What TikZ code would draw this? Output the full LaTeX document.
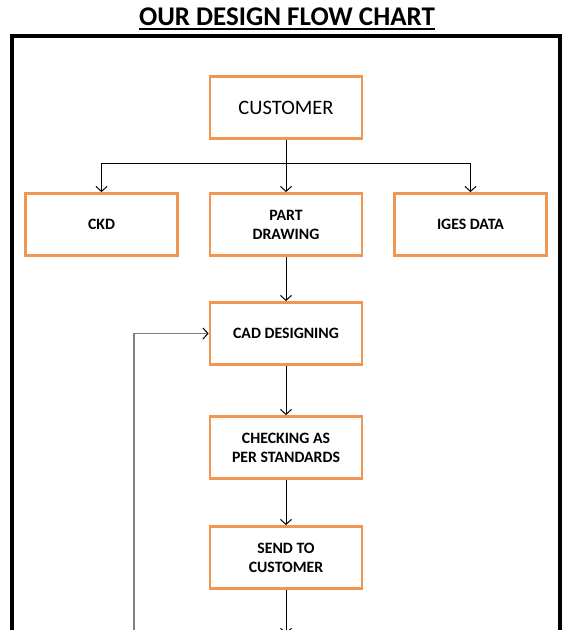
\documentclass[tikz,border=0pt]{standalone}
\usepackage{fontspec}
\setmainfont{Carlito}
\usetikzlibrary{
    arrows.meta,
    positioning,
    calc
}
\definecolor{bgWhite}{RGB}{255, 255, 255}
\definecolor{textBlack}{RGB}{0, 0, 0}
\definecolor{boxOrange}{RGB}{240, 150, 80}
\definecolor{loopGray}{RGB}{128, 128, 128}
\def\pageW{574}
\def\pageH{630}
\tikzset{
    flowBox/.style={
        rectangle,
        draw=boxOrange,
        line width=2.8pt,
        fill=bgWhite,
        minimum width=152pt,
        minimum height=62pt,
        text centered,
        align=center,
        text=textBlack,
        font=\bfseries\fontsize{15.8}{19}\selectfont
    },
    startBox/.style={
        flowBox,
        font=\fontsize{20.5}{23}\selectfont
    },
    flowArrow/.style={
        draw=textBlack,
        line width=1pt,
        -{Straight Barb[length=5pt, width=11pt]}
    },
    loopArrow/.style={
        draw=loopGray,
        line width=1.5pt,
        -{Straight Barb[length=5pt, width=11pt, color=textBlack, line width=1pt]}
    },
    heading/.style={
        font=\bfseries\fontsize{27}{30}\selectfont,
        text=textBlack,
        inner sep=0pt
    }
}

\begin{document}
\begin{tikzpicture}[x=1pt, y=-1pt]
    \useasboundingbox (0,0) rectangle (\pageW, \pageH);
    \fill[bgWhite] (0,0) rectangle (\pageW, \pageH);

    % Title
    \node[heading, anchor=base] (title) at (287, 25) {OUR DESIGN FLOW CHART};
    \draw[line width=2pt] ($(title.base west)+(0,4)$) -- ($(title.base east)+(0,4)$);

    % Frame
    \draw[line width=4pt, textBlack] (12, 35.5) rectangle (560, 700);

    % 1. Customer (Top)
    \node[startBox] (customer) at (286, 107.5) {CUSTOMER};

    % 2. Inputs
    \node[flowBox] (ckd) at (101.5, 224.5) {CKD};
    \node[flowBox] (part) at (286, 224.5) {PART\\DRAWING};
    \node[flowBox] (iges) at (470.5, 224.5) {IGES DATA};

    % 3. Design steps
    \node[flowBox] (cad) at (286, 333.5) {CAD DESIGNING};
    \node[flowBox] (check) at (286, 447.5) {CHECKING AS\\PER STANDARDS};
    \node[flowBox] (send) at (286, 557.5) {SEND TO\\CUSTOMER};

    % Connections
    \coordinate (branch) at (286, 163);
    \draw[flowArrow] (customer.south) -- (branch) -| (ckd.north);
    \draw[flowArrow] (branch) -| (iges.north);
    \draw[flowArrow] (customer.south) -- (part.north);
    \draw[flowArrow] (part) -- (cad);
    \draw[flowArrow] (cad) -- (check);
    \draw[flowArrow] (check) -- (send);

    \coordinate (nextStep) at (286, 634);
    \draw[flowArrow] (send) -- (nextStep);

    % Feedback loop
    \coordinate (loopStart) at (134, 660);
    \draw[loopArrow] (loopStart) |- (cad.west);
\end{tikzpicture}
\end{document}
